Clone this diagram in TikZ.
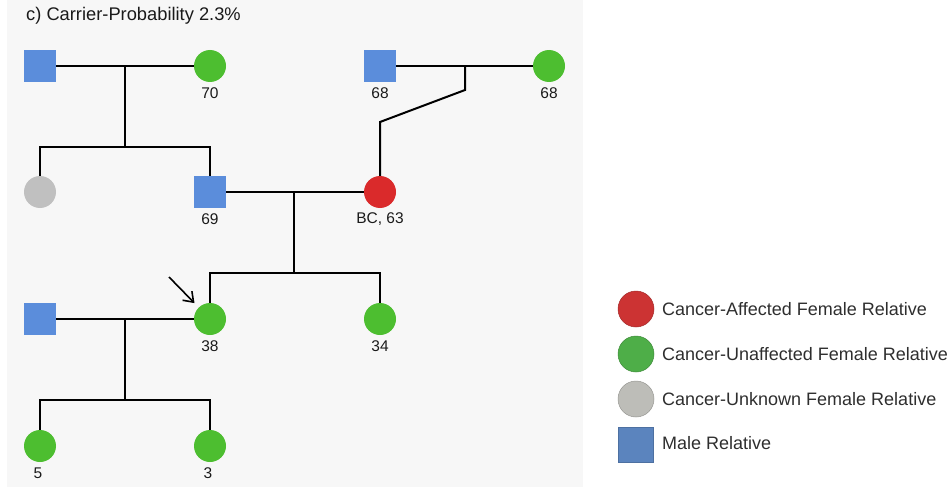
\documentclass[tikz,border=0pt]{standalone}
\usepackage{fontspec}
\setmainfont{Liberation Sans}
\usetikzlibrary{arrows.meta}
\definecolor{panelbg}{HTML}{F7F7F7}
\definecolor{maleblue}{HTML}{5B8DDB}
\definecolor{femgreen}{HTML}{4DBE30}
\definecolor{femred}{HTML}{DA2A2B}
\definecolor{femgray}{HTML}{C0C0C0}
\definecolor{legred}{HTML}{CC3333}
\definecolor{leggreen}{HTML}{4EAE48}
\definecolor{leggray}{HTML}{BDBDB8}
\definecolor{legblue}{HTML}{5B84BE}
\definecolor{txt}{HTML}{1A1A1A}
\definecolor{legtxt}{HTML}{2E2E2E}
\tikzset{
  malebox/.style={rectangle, fill=maleblue, minimum size=32pt, inner sep=0pt, draw=none},
  femnode/.style={circle, fill=#1, minimum size=32pt, inner sep=0pt, draw=none},
  agelab/.style={text=txt, font=\fontsize{15.5}{17}\selectfont, inner sep=0pt},
  titletext/.style={text=txt, font=\fontsize{18.3}{21}\selectfont, inner sep=0pt, anchor=west},
  link/.style={draw=black, line width=2pt},
  legcircle/.style={circle, fill=#1, draw=#1!80!black, line width=0.5pt, minimum size=36pt, inner sep=0pt},
  legsquare/.style={rectangle, fill=legblue, draw=legblue!85!black, line width=0.5pt, minimum size=35pt, inner sep=0pt},
  legtext/.style={text=legtxt, font=\fontsize{18}{21}\selectfont, inner sep=0pt, anchor=west},
}
\begin{document}
\begin{tikzpicture}[x=1pt,y=-1pt]
\useasboundingbox (0,0) rectangle (948,487);
\fill[panelbg] (7,0) rectangle (583,487);
\node[titletext] (title) at (26,16) {c) Carrier-Probability 2.3\%};

% generation 1
\node[malebox] (m1) at (40,66) {};
\node[femnode=femgreen] (f1) at (210,66) {};
\node[agelab] (l70) at (210,93) {70};
\node[malebox] (m2) at (380,66) {};
\node[agelab] (l68a) at (380,93) {68};
\node[femnode=femgreen] (f2) at (549,66) {};
\node[agelab] (l68b) at (549,93) {68};

% generation 2
\node[femnode=femgray] (g) at (40,192) {};
\node[malebox] (m3) at (210,192) {};
\node[agelab] (l69) at (210,219) {69};
\node[femnode=femred] (r) at (380,192) {};
\node[agelab] (lbc) at (380,219) {BC, 63};

% generation 3
\node[malebox] (m4) at (40,319) {};
\node[femnode=femgreen] (p) at (210,319) {};
\node[agelab] (l38) at (210,346) {38};
\node[femnode=femgreen] (s) at (380,319) {};
\node[agelab] (l34) at (380,346) {34};

% generation 4
\node[femnode=femgreen] (c1) at (40,446) {};
\node[agelab] (l5) at (38,473) {5};
\node[femnode=femgreen] (c2) at (210,446) {};
\node[agelab] (l3) at (208,473) {3};

% junctions
\coordinate (j1) at (125,66);
\coordinate (j1b) at (125,147);
\coordinate (j2) at (465,66);
\coordinate (j2b) at (465,90);
\coordinate (j2c) at (380,122);
\coordinate (j3) at (294,192);
\coordinate (j3b) at (294,273);
\coordinate (j4) at (125,319);
\coordinate (j4b) at (125,400);
\coordinate (arr) at (169,277);

% connectors
\draw[link] (m1) -- (f1);
\draw[link] (j1) -- (j1b);
\draw[link] (g) |- (j1b) -| (m3);
\draw[link] (m2) -- (f2);
\draw[link] (j2) -- (j2b) -- (j2c) -- (r);
\draw[link] (m3) -- (r);
\draw[link] (j3) -- (j3b);
\draw[link] (p) |- (j3b) -| (s);
\draw[link] (m4) -- (p);
\draw[link] (j4) -- (j4b);
\draw[link] (c1) |- (j4b) -| (c2);
\draw[line width=1.6pt, -{Straight Barb[length=9pt,width=13pt]}, shorten >=6pt] (arr) -- (p);

% legend
\node[legcircle=legred] (k1) at (636,309) {};
\node[legtext] (t1) at (662,309) {Cancer-Affected Female Relative};
\node[legcircle=leggreen] (k2) at (636,354) {};
\node[legtext] (t2) at (662,354) {Cancer-Unaffected Female Relative};
\node[legcircle=leggray] (k3) at (636,399) {};
\node[legtext] (t3) at (662,399) {Cancer-Unknown Female Relative};
\node[legsquare] (k4) at (636,445) {};
\node[legtext] (t4) at (662,443) {Male Relative};
\end{tikzpicture}
\end{document}
